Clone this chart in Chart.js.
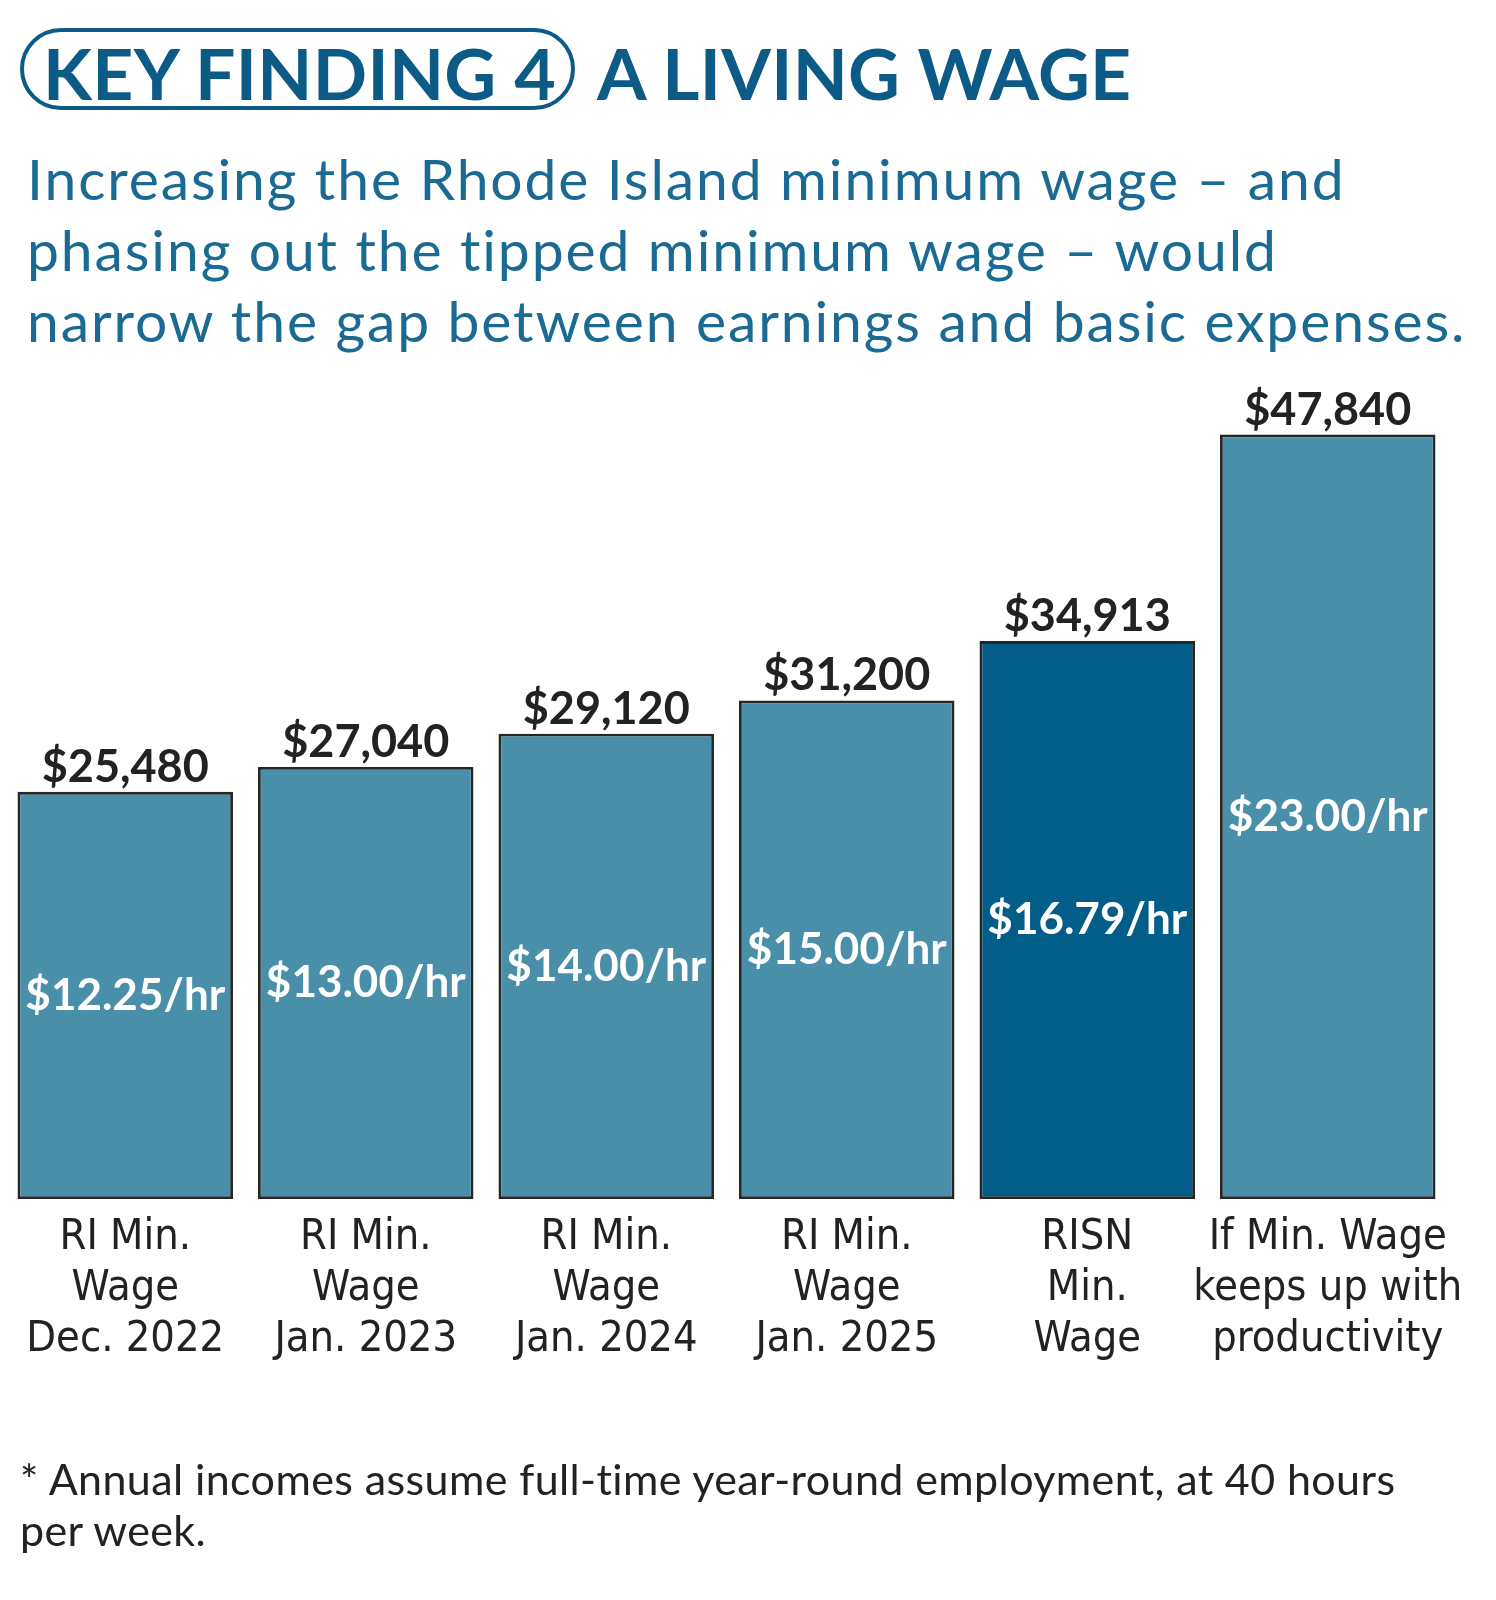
<!DOCTYPE html>
<html>
<head>
<meta charset="utf-8">
<script src="https://cdn.jsdelivr.net/npm/chart.js@4"></script>
<style>
  html, body { margin: 0; padding: 0; background: #ffffff; }
  body { width: 1496px; height: 1600px; position: relative; overflow: hidden; }
  #c { position: absolute; left: 0; top: 0; }
  .pill { position: absolute; left: 20px; top: 28px; width: 547px; height: 74px;
          border: 4px solid #0b5b86; border-radius: 42px; }
  .title { position: absolute; top: 32px; font-family: Lato, "Open Sans", sans-serif; font-weight: 700;
           font-size: 71.5px; line-height: 80px; color: #0b5b86; white-space: nowrap; letter-spacing: 0.3px; }
  .sub { position: absolute; left: 27px; top: 143px; font-family: Lato, "Open Sans", sans-serif; font-weight: 400;
         font-size: 57px; line-height: 71px; color: #1a6a93; white-space: nowrap; letter-spacing: 1.9px; }
  .foot { position: absolute; left: 20px; top: 1453px; font-family: Lato, "Open Sans", sans-serif; font-weight: 400;
          font-size: 43px; line-height: 51px; color: #222222; white-space: nowrap; letter-spacing: 0.4px; }
</style>
</head>
<body>
<canvas id="c" width="1496" height="1600"></canvas>
<div class="pill"></div>
<div class="title" style="left:43px;">KEY FINDING 4</div>
<div class="title" style="left:597px;">A LIVING WAGE</div>
<div class="sub">Increasing the Rhode Island minimum wage – and<br>phasing out the tipped minimum wage – would<br>narrow the gap between earnings and basic expenses.</div>
<div class="foot">* Annual incomes assume full-time year-round employment, at 40 hours<br>per week.</div>
<script>
const categories = [
  ["RI Min.", "Wage", "Dec. 2022"],
  ["RI Min.", "Wage", "Jan. 2023"],
  ["RI Min.", "Wage", "Jan. 2024"],
  ["RI Min.", "Wage", "Jan. 2025"],
  ["RISN", "Min.", "Wage"],
  ["If Min. Wage", "keeps up with", "productivity"]
];
const annualIncome = [25480, 27040, 29120, 31200, 34913, 47840];
const hourlyWage = [12.25, 13.00, 14.00, 15.00, 16.79, 23.00];
const highlighted = [false, false, false, false, true, false];

const LIGHT = '#4a8fa9';
const DARK = '#035d89';

const barLabels = {
  id: 'barLabels',
  afterDatasetsDraw(chart) {
    const ctx = chart.ctx;
    const meta = chart.getDatasetMeta(0);
    ctx.save();
    meta.data.forEach((bar, i) => {
      ctx.textAlign = 'center';
      ctx.textBaseline = 'alphabetic';
      ctx.fillStyle = '#222222';
      ctx.font = '700 45px Lato, "Open Sans", sans-serif';
      ctx.fillText('$' + annualIncome[i].toLocaleString('en-US'), bar.x, bar.y - 10);
      ctx.textBaseline = 'middle';
      ctx.fillStyle = '#ffffff';
      ctx.font = '700 44px Lato, "Open Sans", sans-serif';
      ctx.fillText('$' + hourlyWage[i].toFixed(2) + '/hr', bar.x, (bar.y + bar.base) / 2);
    });
    ctx.restore();
  }
};

new Chart(document.getElementById('c'), {
  type: 'bar',
  data: {
    labels: categories,
    datasets: [{
      data: annualIncome,
      backgroundColor: highlighted.map(h => h ? DARK : LIGHT),
      borderColor: '#262626',
      borderWidth: 2.8,
      borderSkipped: false,
      barPercentage: 0.896,
      categoryPercentage: 1.0
    }]
  },
  options: {
    responsive: false,
    animation: false,
    devicePixelRatio: 1,
    layout: { padding: { left: 5, right: 48, top: 400, bottom: 0 } },
    plugins: { legend: { display: false }, tooltip: { enabled: false }, title: { display: false } },
    scales: {
      x: {
        grid: { display: false, drawTicks: false },
        border: { display: false },
        ticks: {
          color: '#222222',
          padding: 13.5,
          maxRotation: 0,
          autoSkip: false,
          font: { family: '"Liberation Sans Narrow", "DejaVu Sans Condensed", Lato, sans-serif', size: 43, lineHeight: '51px' }
        },
        afterFit(scale) { scale.height = 401; }
      },
      y: {
        display: false,
        min: 0,
        max: 50000
      }
    }
  },
  plugins: [barLabels]
});
</script>
</body>
</html>
